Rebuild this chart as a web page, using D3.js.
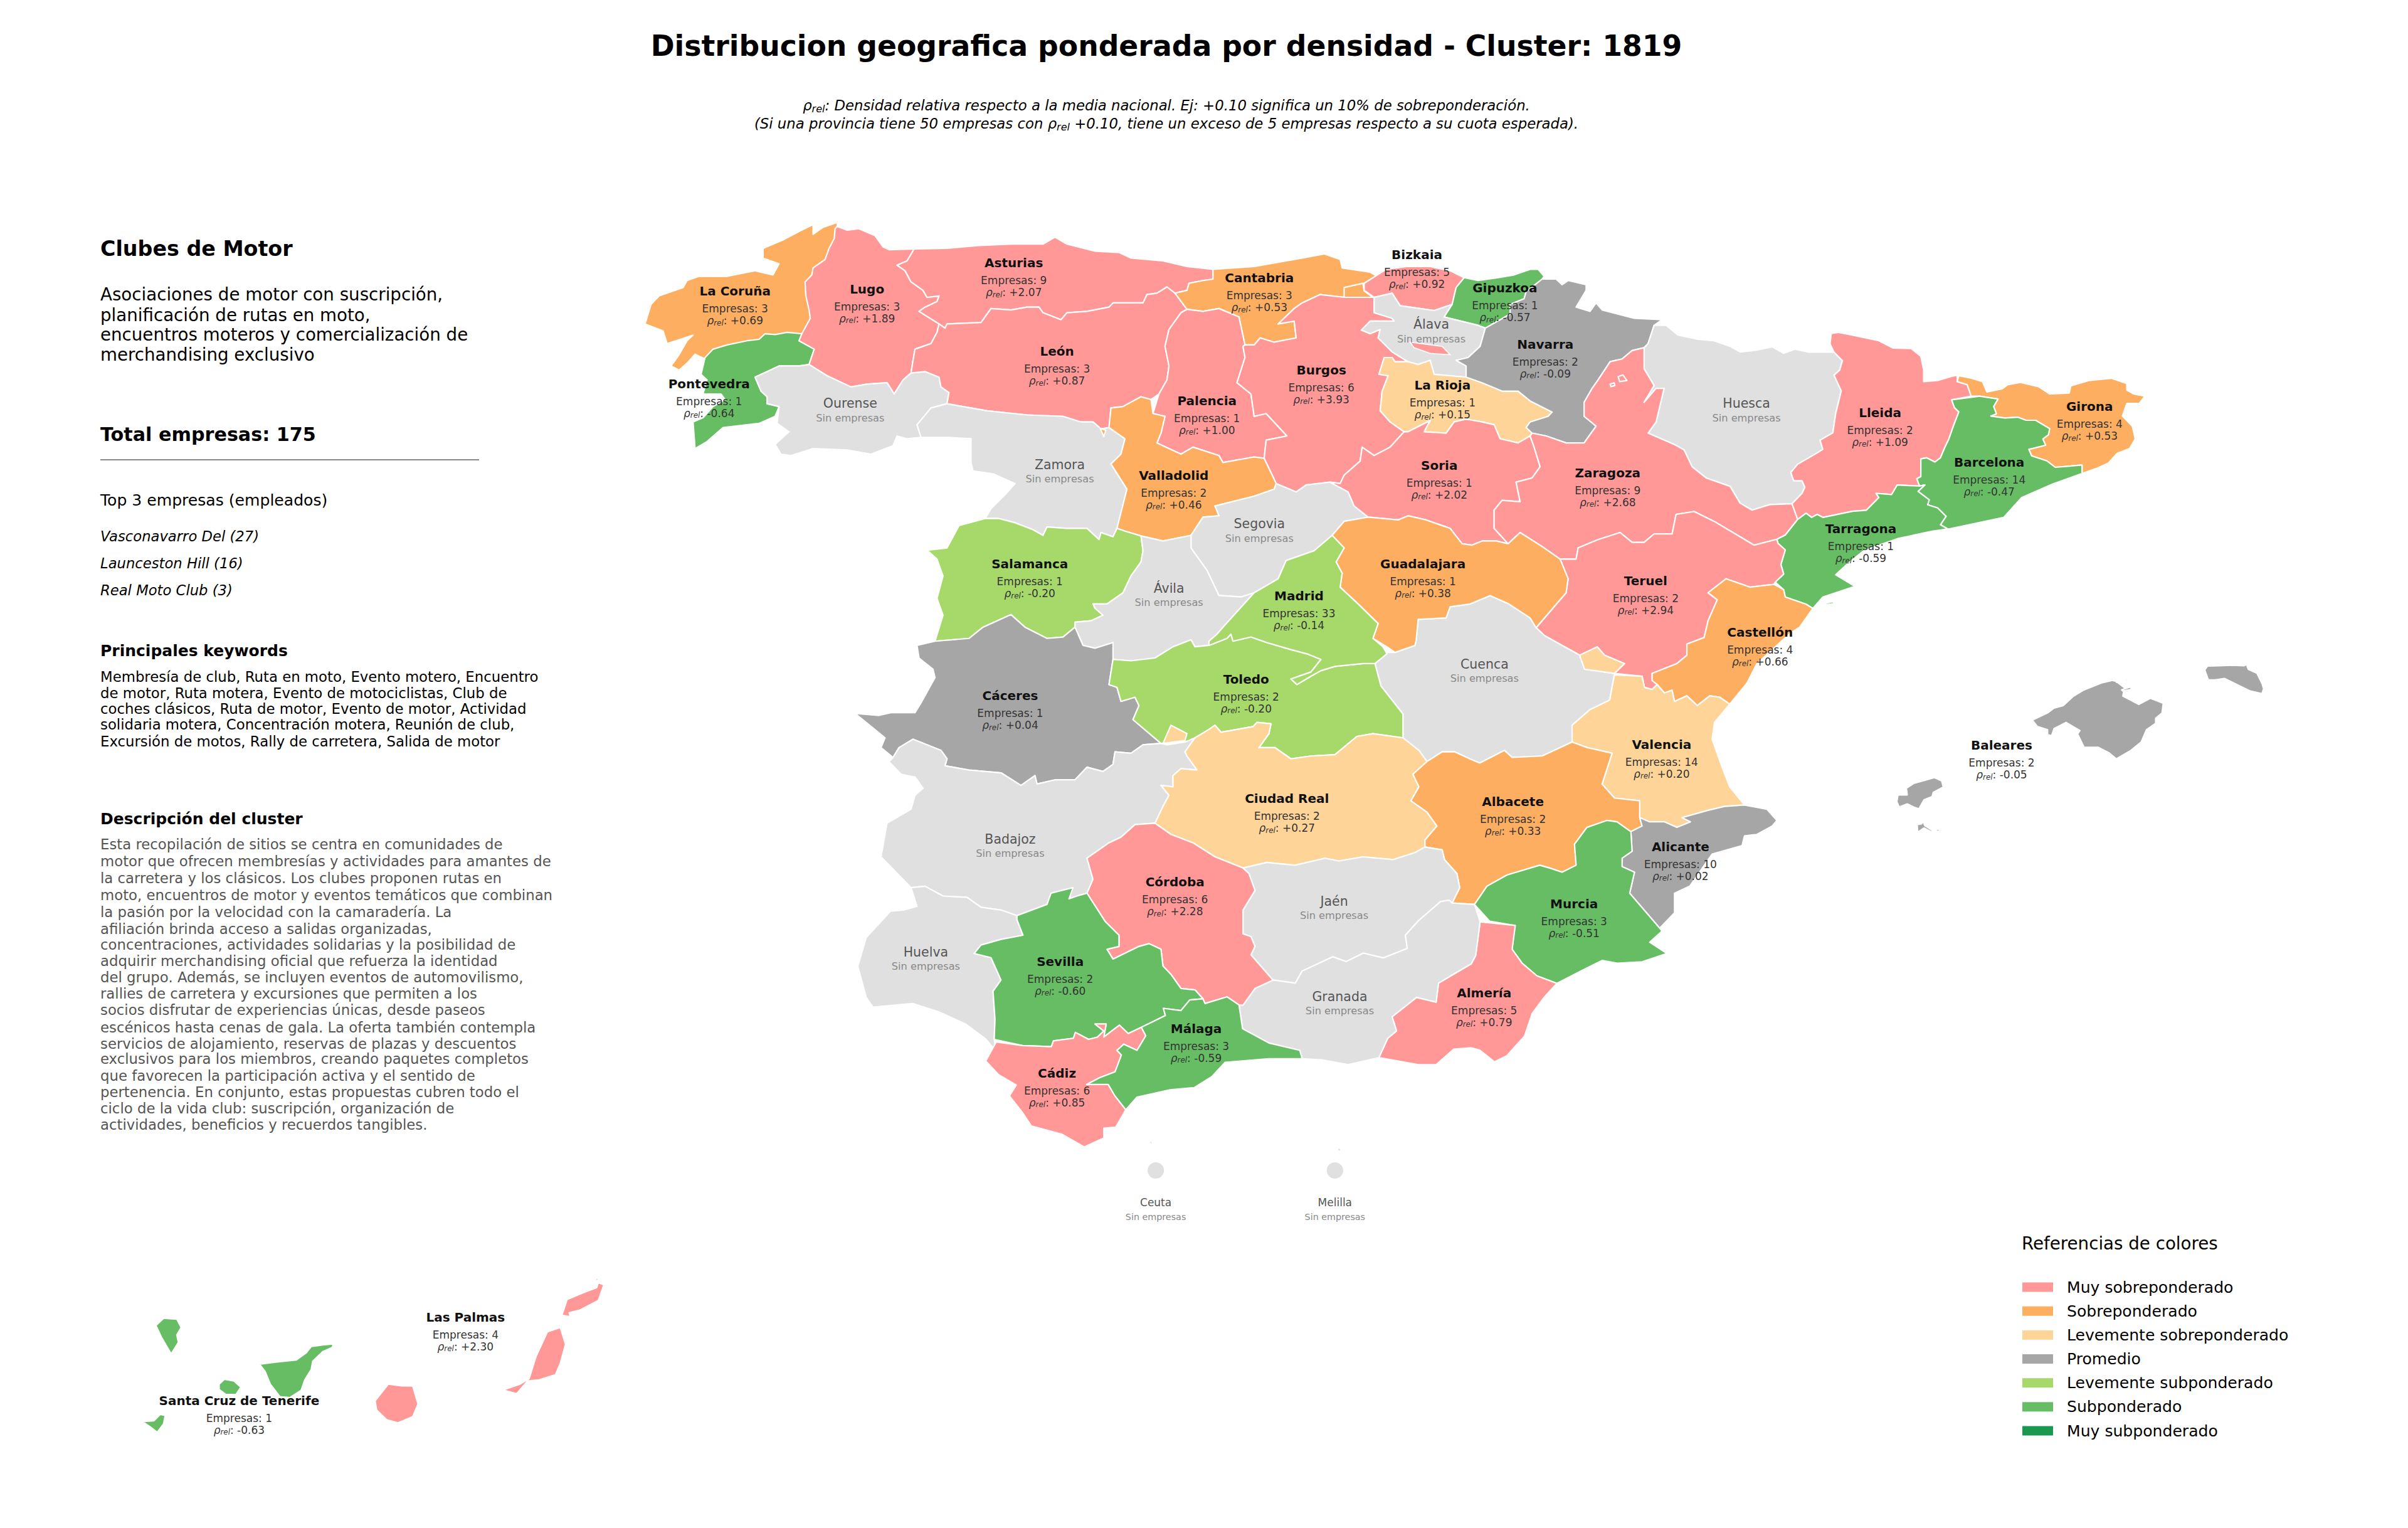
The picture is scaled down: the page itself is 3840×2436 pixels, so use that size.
<!DOCTYPE html>
<html><head><meta charset="utf-8">
<style>html,body{margin:0;padding:0;background:#fff;overflow:hidden}svg{display:block;font-family:"DejaVu Sans",sans-serif}</style>
<script src="https://cdn.jsdelivr.net/npm/d3@7"></script>
</head><body>
<svg id="chart" width="3840" height="2436" viewBox="0 0 3840 2436"></svg>
<script>
// ---------- values ----------
const provinces = ["La Coruña","Pontevedra","Lugo","Ourense","Asturias","León","Cantabria","Zamora","Palencia","Burgos","Valladolid","Salamanca","Segovia","Ávila","Bizkaia","Gipuzkoa","Álava","La Rioja","Navarra","Soria","Huesca","Zaragoza","Lleida","Girona","Barcelona","Tarragona","Teruel","Castellón","Cuenca","Guadalajara","Cáceres","Badajoz","Toledo","Madrid","Ciudad Real","Valencia","Albacete","Alicante","Murcia","Almería","Jaén","Granada","Córdoba","Huelva","Sevilla","Cádiz","Málaga","Baleares","Santa Cruz de Tenerife","Las Palmas"];
const empresas = [3,1,3,null,9,3,3,null,1,6,2,1,null,null,5,1,null,1,2,1,null,9,2,4,14,1,2,4,null,1,1,null,2,33,2,14,2,10,3,5,null,null,6,null,2,6,3,2,1,4];
const rhoRel = [0.69,-0.64,1.89,null,2.07,0.87,0.53,null,1.00,3.93,0.46,-0.20,null,null,0.92,-0.57,null,0.15,-0.09,2.02,null,2.68,1.09,0.53,-0.47,-0.59,2.94,0.66,null,0.38,0.04,null,-0.20,-0.14,0.27,0.20,0.33,0.02,-0.51,0.79,null,null,2.28,null,-0.60,0.85,-0.59,-0.05,-0.63,2.30];
const cities = ["Ceuta","Melilla"];

const legendLabels = ["Muy sobreponderado","Sobreponderado","Levemente sobreponderado","Promedio","Levemente subponderado","Subponderado","Muy subponderado"];
const legendColors = ["#ff9896","#fdae61","#fed498","#a6a6a6","#a6d96a","#66bd63","#1a9850"];
const rhoBreaks = [-0.75,-0.30,-0.10,0.10,0.30,0.75];
const noDataColor = "#e0e0e0";

const titleText = "Distribucion geografica ponderada por densidad - Cluster: 1819";
const subtitle1 = ": Densidad relativa respecto a la media nacional. Ej: +0.10 significa un 10% de sobreponderación.";
const subtitle2a = "(Si una provincia tiene 50 empresas con ";
const subtitle2b = " +0.10, tiene un exceso de 5 empresas respecto a su cuota esperada).";
const clusterName = "Clubes de Motor";
const clusterLines = ["Asociaciones de motor con suscripción,","planificación de rutas en moto,","encuentros moteros y comercialización de","merchandising exclusivo"];
const totalText = "Total empresas: 175";
const topHeader = "Top 3 empresas (empleados)";
const topCompanies = ["Vasconavarro Del (27)","Launceston Hill (16)","Real Moto Club (3)"];
const keywordsHeader = "Principales keywords";
const keywordLines = ["Membresía de club, Ruta en moto, Evento motero, Encuentro","de motor, Ruta motera, Evento de motociclistas, Club de","coches clásicos, Ruta de motor, Evento de motor, Actividad","solidaria motera, Concentración motera, Reunión de club,","Excursión de motos, Rally de carretera, Salida de motor"];
const descHeader = "Descripción del cluster";
const descLines = ["Esta recopilación de sitios se centra en comunidades de","motor que ofrecen membresías y actividades para amantes de","la carretera y los clásicos. Los clubes proponen rutas en","moto, encuentros de motor y eventos temáticos que combinan","la pasión por la velocidad con la camaradería. La","afiliación brinda acceso a salidas organizadas,","concentraciones, actividades solidarias y la posibilidad de","adquirir merchandising oficial que refuerza la identidad","del grupo. Además, se incluyen eventos de automovilismo,","rallies de carretera y excursiones que permiten a los","socios disfrutar de experiencias únicas, desde paseos","escénicos hasta cenas de gala. La oferta también contempla","servicios de alojamiento, reservas de plazas y descuentos","exclusivos para los miembros, creando paquetes completos","que favorecen la participación activa y el sentido de","pertenencia. En conjunto, estas propuestas cubren todo el","ciclo de la vida club: suscripción, organización de","actividades, beneficios y recuerdos tangibles."];

// ---------- province outlines, traced in map-grid units (x1,y1,x2,y2,...) ----------
const oCoruna=[[525,78,530,130,530,300,500,420,470,500,380,520,250,540,215,550,195,565,170,548,150,580,130,605,110,590,130,550,150,500,165,480,100,510,90,465,45,440,60,370,80,340,140,310,150,285,180,270,250,270,320,250,365,265,380,225,340,205,340,170,390,140,430,110,465,85,465,120,490,95]];
const oPontevedra=[[215,530,195,560,185,620,200,640,190,690,235,690,245,710,215,735,190,775,165,790,170,885,200,860,240,810,330,795,370,770,380,735,350,725,350,700,335,680,320,630,380,590,430,590,455,585,468,530,430,500,437,475,400,470,370,478,345,475,330,495,300,500,250,515]];
const oLugo=[[525,92,550,105,580,100,620,125,640,165,655,175,718,172,700,215,675,230,695,250,710,290,740,320,750,345,780,340,775,360,745,380,730,395,780,440,775,470,760,510,720,530,715,570,710,615,690,640,668,690,650,650,600,655,560,665,500,625,455,585,468,530,430,500,437,475,458,420,455,390,447,340,445,290,462,265,465,240,495,210,505,170,518,135,520,100]];
const oOurense=[[320,630,380,590,430,590,455,585,500,625,560,665,600,655,650,650,668,690,690,640,710,615,745,610,780,630,785,665,805,685,800,725,760,740,725,800,735,845,700,850,675,840,665,875,610,905,550,890,465,885,410,910,385,905,370,870,405,825,375,795,380,735,350,725,350,700,335,680]];
const oAsturias=[[718,172,800,170,880,160,960,155,1040,155,1070,130,1100,155,1170,180,1230,185,1260,205,1340,215,1400,235,1465,245,1465,280,1440,285,1405,295,1400,320,1370,330,1350,308,1325,330,1300,335,1290,365,1215,365,1205,380,1150,395,1100,400,1085,425,1040,400,1030,380,1000,380,960,390,910,385,885,435,800,440,795,455,780,440,730,395,745,380,775,360,780,340,750,345,740,320,710,290,695,250,675,230,700,215]];
const oLeon=[[780,440,795,455,800,440,885,435,910,385,960,390,1000,380,1030,380,1040,400,1085,425,1100,400,1150,395,1205,380,1215,365,1290,365,1300,335,1325,330,1350,308,1370,330,1400,388,1385,400,1355,460,1345,520,1355,590,1350,640,1330,690,1310,710,1285,700,1240,735,1210,740,1205,810,1185,815,1165,790,1135,790,1090,770,1000,765,900,750,800,725,805,685,785,665,780,630,745,610,710,615,715,570,720,530,760,510,775,470]];
const oCantabria=[[1465,245,1568,235,1628,220,1688,205,1743,190,1783,210,1788,240,1858,255,1873,268,1843,295,1793,345,1733,335,1688,365,1668,385,1628,440,1668,430,1673,490,1618,505,1583,490,1568,515,1545,515,1530,415,1480,385,1440,395,1400,388,1370,330,1400,320,1405,295,1440,285,1465,280],[1793,345,1793,310,1840,295,1843,322,1868,348]];
const oZamora=[[760,740,800,725,900,750,1000,765,1090,770,1135,790,1165,790,1185,815,1205,810,1245,850,1235,905,1210,940,1250,1030,1225,1170,1215,1200,1185,1185,1180,1210,1150,1170,1100,1170,1050,1165,1040,1195,1015,1175,970,1150,930,1135,895,1135,910,1100,945,1050,970,1010,915,975,865,965,860,935,860,850,800,845,735,845,725,800]];
const oPalencia=[[1385,400,1400,388,1440,395,1480,385,1530,415,1545,515,1540,520,1545,560,1525,650,1560,690,1568,770,1598,760,1650,840,1598,855,1593,920,1568,915,1490,935,1480,910,1415,880,1385,905,1325,865,1335,830,1345,770,1315,760,1330,690,1350,640,1355,590,1345,520,1355,460]];
const oBurgos=[[1545,515,1568,515,1583,490,1618,505,1673,490,1668,430,1628,440,1668,385,1688,365,1733,335,1793,345,1868,345,1868,400,1913,420,1918,430,1858,430,1836,462,1858,475,1883,460,1878,490,1913,540,1953,575,1920,575,1913,560,1893,560,1880,620,1903,625,1888,680,1883,750,1908,790,1943,825,1908,880,1868,910,1838,880,1833,930,1793,980,1783,1010,1758,1005,1698,1015,1673,1040,1623,1010,1593,920,1598,855,1650,840,1598,760,1568,770,1560,690,1525,650,1545,560,1540,520]];
const oTrevino=[1958,505,2038,520,2058,550,2008,545,1968,525];
const oValladolid=[[1210,740,1240,735,1285,700,1310,710,1315,760,1345,770,1335,830,1325,865,1385,905,1415,880,1480,910,1490,935,1568,915,1593,920,1623,1010,1618,1030,1568,1055,1470,1090,1480,1125,1440,1130,1410,1195,1340,1215,1285,1197,1245,1180,1225,1170,1250,1030,1210,940,1235,905,1245,850,1205,810],[1183,813,1192,842,1197,820]];
const oSalamanca=[[895,1135,930,1135,970,1150,1015,1175,1040,1195,1050,1165,1100,1170,1150,1170,1180,1210,1185,1185,1215,1200,1225,1170,1245,1180,1285,1197,1290,1250,1285,1290,1260,1340,1240,1400,1200,1440,1165,1440,1170,1455,1190,1480,1160,1500,1120,1505,1120,1523,1090,1558,1050,1563,995,1523,960,1478,890,1523,855,1563,770,1573,790,1480,775,1420,790,1340,775,1280,750,1248,800,1240,830,1160]];
const oSegovia=[[1440,1130,1480,1125,1470,1090,1568,1055,1618,1030,1623,1010,1673,1040,1698,1015,1758,1005,1803,1040,1818,1090,1853,1130,1793,1145,1763,1195,1718,1250,1648,1285,1628,1350,1568,1400,1535,1415,1480,1410,1450,1320,1410,1240,1410,1195]];
const oAvila=[[1285,1197,1340,1215,1410,1195,1410,1240,1450,1320,1480,1410,1535,1415,1568,1400,1490,1523,1475,1548,1455,1573,1455,1588,1420,1593,1410,1568,1365,1593,1320,1633,1260,1643,1215,1638,1215,1578,1170,1598,1140,1588,1120,1523,1120,1505,1160,1500,1190,1480,1170,1455,1165,1440,1200,1440,1240,1400,1260,1340,1285,1290,1290,1250]];
const oBizkaia=[[1873,268,1898,245,1948,235,2008,235,2058,250,2093,275,2073,310,2068,340,2063,370,2018,392,1933,375,1913,330,1868,345,1843,320,1843,295]];
const oGipuzkoa=[[2093,275,2128,285,2178,275,2218,265,2258,245,2278,245,2293,270,2288,280,2248,325,2243,350,2208,370,2208,405,2146,455,2128,445,2043,415,2063,370,2068,340,2073,310]];
const oAlava=[[1868,345,1913,330,1933,375,2018,392,2063,370,2043,415,2128,445,2146,455,2133,520,2103,560,2073,570,2098,590,2098,630,2018,620,2008,570,1978,585,1953,575,1913,540,1878,490,1883,460,1858,475,1836,462,1858,430,1918,430,1913,420,1868,400]];
const oRioja=[[1893,560,1913,560,1920,575,1953,575,1978,585,2008,570,2018,620,2098,630,2138,650,2188,680,2228,680,2258,715,2313,755,2303,770,2258,790,2248,810,2263,830,2258,840,2228,865,2183,850,2168,800,2138,790,2098,780,2068,790,2048,830,1993,825,2008,785,1953,825,1943,825,1908,790,1883,750,1888,680,1903,625,1880,620]];
const oNavarra=[[2146,455,2208,405,2208,370,2243,350,2248,325,2288,280,2323,280,2338,300,2353,285,2398,300,2398,320,2373,380,2408,395,2423,365,2438,390,2518,420,2588,425,2568,445,2553,510,2543,525,2513,535,2488,565,2458,575,2428,640,2413,670,2393,720,2393,770,2423,805,2393,865,2348,865,2298,840,2263,830,2248,810,2258,790,2303,770,2313,755,2258,715,2228,680,2188,680,2138,650,2098,630,2098,590,2073,570,2103,560,2133,520]];
const oSoria=[[1943,825,1953,825,2008,785,1993,825,2048,830,2068,790,2098,780,2138,790,2168,800,2183,850,2228,865,2258,840,2268,880,2283,950,2263,990,2223,1005,2233,1075,2188,1070,2168,1105,2168,1170,2203,1225,2173,1215,2138,1215,2113,1230,2088,1225,2058,1170,2038,1160,1998,1140,1953,1125,1928,1140,1853,1130,1818,1090,1803,1040,1758,1005,1783,1010,1793,980,1833,930,1838,880,1868,910,1908,880]];
const oHuesca=[[2553,510,2568,445,2598,445,2628,480,2678,495,2718,500,2758,520,2783,540,2822,534,2864,522,2892,545,2920,530,2955,541,3011,541,3018,541,3039,571,3032,605,3018,623,3036,679,3022,761,3015,829,2983,855,2990,888,2973,903,2927,941,2910,970,2917,1000,2938,1000,2945,1023,2938,1045,2913,1082,2858,1085,2813,1105,2783,1080,2758,1020,2698,990,2663,950,2643,890,2618,870,2553,830,2573,790,2593,670,2573,670,2543,720,2568,660,2543,600,2543,525]];
const oZaragoza=[[2543,525,2513,535,2488,565,2458,575,2428,640,2413,670,2393,720,2393,770,2423,805,2393,865,2348,865,2298,840,2263,830,2258,840,2268,880,2283,950,2263,990,2223,1005,2233,1075,2188,1070,2168,1105,2168,1170,2203,1225,2233,1185,2288,1235,2333,1280,2373,1280,2378,1240,2428,1210,2483,1185,2513,1220,2543,1220,2568,1190,2613,1190,2623,1120,2668,1110,2718,1145,2818,1230,2875,1209,2896,1194,2927,1138,2913,1082,2858,1085,2813,1105,2783,1080,2758,1020,2698,990,2663,950,2643,890,2618,870,2553,830,2573,790,2593,670,2573,670,2543,720,2568,660,2543,600],[2478,628,2490,622,2500,642,2482,646],[2458,655,2468,650,2470,660,2460,664]];
const oLleida=[[3011,474,3029,470,3067,481,3130,500,3165,526,3211,528,3235,556,3242,605,3242,646,3277,642,3312,627,3326,623,3326,646,3351,657,3361,698,3312,711,3319,739,3330,754,3316,806,3305,851,3295,881,3284,918,3270,933,3249,918,3235,922,3235,985,3225,993,3232,1019,3176,1015,3162,1049,3123,1045,3130,1060,3099,1105,3064,1109,2990,1131,2976,1120,2962,1131,2948,1116,2927,1138,2913,1082,2938,1045,2945,1023,2938,1000,2917,1000,2910,970,2927,941,2973,903,2990,888,2983,855,3015,829,3022,761,3036,679,3018,623,3032,605,3039,571,3018,541,3008,511]];
const oGirona=[[3330,625,3361,634,3389,646,3400,683,3438,672,3452,657,3484,649,3529,664,3557,690,3606,687,3610,661,3655,642,3711,634,3750,653,3750,676,3767,690,3795,698,3781,724,3750,724,3739,769,3764,806,3771,851,3757,885,3725,903,3704,937,3676,955,3638,974,3638,944,3571,952,3550,929,3512,911,3505,888,3547,873,3540,851,3554,836,3557,814,3522,784,3498,784,3477,773,3445,776,3410,769,3424,761,3417,735,3428,708,3382,698,3361,698,3351,657,3326,646]];
const oBarcelona=[[3312,711,3382,698,3428,708,3417,735,3424,761,3410,769,3445,776,3477,773,3498,784,3522,784,3557,814,3554,836,3540,851,3547,873,3505,888,3512,911,3550,929,3571,952,3638,944,3638,974,3564,1012,3487,1060,3442,1131,3305,1172,3302,1172,3284,1157,3298,1127,3277,1097,3252,1086,3256,1068,3228,1038,3245,1015,3232,1019,3225,993,3235,985,3235,922,3249,918,3270,933,3284,918,3295,881,3305,851,3316,806,3330,754,3319,739]];
const oTarragona=[[2927,1138,2896,1194,2875,1209,2878,1224,2896,1247,2885,1299,2892,1333,2871,1362,2892,1389,2896,1415,2948,1441,2965,1456,2990,1415,3070,1377,3022,1336,3053,1295,3095,1247,3179,1206,3263,1180,3302,1172,3284,1157,3298,1127,3277,1097,3252,1086,3256,1068,3228,1038,3245,1015,3232,1019,3176,1015,3162,1049,3123,1045,3130,1060,3099,1105,3064,1109,2990,1131,2976,1120,2962,1131,2948,1116],[2995,1438,3015,1432,3018,1438,3000,1442]];
const oTeruel=[[2333,1280,2373,1280,2378,1240,2428,1210,2483,1185,2513,1220,2543,1220,2568,1190,2613,1190,2623,1120,2668,1110,2718,1145,2818,1230,2875,1209,2878,1224,2896,1247,2885,1299,2892,1333,2871,1362,2868,1370,2808,1380,2748,1350,2703,1400,2726,1425,2703,1500,2693,1560,2650,1583,2650,1623,2625,1653,2563,1688,2563,1713,2576,1728,2563,1745,2544,1738,2538,1698,2469,1688,2494,1653,2444,1623,2426,1593,2382,1623,2294,1553,2273,1525,2348,1400,2353,1350]];
const oCastellon=[[2703,1400,2748,1350,2808,1380,2868,1370,2892,1389,2896,1415,2948,1441,2965,1456,2932,1523,2908,1545,2825,1653,2800,1723,2757,1798,2732,1773,2707,1768,2676,1803,2650,1768,2619,1788,2613,1748,2594,1758,2576,1728,2563,1713,2563,1688,2625,1653,2650,1623,2650,1583,2693,1560,2703,1500,2726,1425]];
const oCuenca=[[1973,1570,1978,1495,2048,1490,2058,1450,2108,1440,2158,1410,2205,1440,2258,1490,2273,1525,2294,1553,2382,1623,2394,1673,2469,1688,2457,1783,2407,1818,2363,1873,2363,1933,2288,1983,2213,1988,2194,1963,2132,2008,2107,1993,2069,1968,2038,1968,2000,2003,1980,1963,1940,1918,1940,1833,1885,1733,1870,1653,1900,1613,1920,1613,1970,1588]];
const oGuadalajara=[[1853,1130,1928,1140,1953,1125,1998,1140,2038,1160,2058,1170,2088,1225,2113,1230,2138,1215,2173,1215,2203,1225,2233,1185,2288,1235,2333,1280,2353,1350,2348,1400,2273,1525,2258,1490,2205,1440,2158,1410,2108,1440,2058,1450,2048,1490,1978,1495,1973,1570,1970,1588,1920,1613,1900,1593,1865,1563,1878,1510,1828,1440,1783,1380,1788,1330,1773,1290,1793,1240,1763,1195,1793,1145]];
const oCaceres=[[770,1573,725,1588,730,1633,765,1673,770,1703,735,1793,720,1828,660,1828,630,1838,570,1831,615,1883,645,1918,635,1953,665,1988,680,1953,715,1923,785,1963,800,1993,795,2018,855,2033,935,2043,985,2088,1020,2053,1025,2083,1070,2068,1120,2068,1150,2023,1190,2038,1215,2013,1220,1968,1260,1973,1290,1943,1335,1938,1265,1853,1280,1803,1270,1773,1235,1788,1225,1738,1205,1728,1215,1638,1215,1578,1170,1598,1140,1588,1120,1523,1090,1558,1050,1563,995,1523,960,1478,890,1523,855,1563]];
const oBadajoz=[[665,1988,680,1953,715,1923,785,1963,800,1993,795,2018,855,2033,935,2043,985,2088,1020,2053,1025,2083,1070,2068,1120,2068,1150,2023,1190,2038,1215,2013,1220,1968,1260,1973,1290,1943,1335,1938,1350,1943,1395,1933,1420,1918,1395,1968,1425,2033,1385,2028,1365,2053,1365,2093,1335,2088,1355,2123,1340,2163,1320,2223,1270,2228,1235,2273,1205,2293,1150,2348,1165,2423,1150,2473,1125,2483,1110,2498,1105,2468,1115,2453,1060,2473,1050,2513,975,2553,935,2533,885,2523,850,2488,790,2483,745,2448,710,2453,635,2343,650,2223,710,2173,720,2123,740,2098,720,2058,685,2048,655,2003]];
const oToledo=[[1215,1638,1260,1643,1320,1633,1365,1593,1410,1568,1420,1593,1455,1588,1500,1563,1510,1548,1515,1573,1560,1558,1600,1578,1660,1603,1700,1618,1735,1638,1710,1683,1660,1708,1675,1728,1710,1698,1735,1678,1770,1663,1840,1653,1870,1653,1885,1733,1940,1833,1940,1918,1865,1903,1825,1913,1770,1978,1710,1983,1660,1993,1620,1953,1580,1953,1605,1903,1610,1868,1575,1863,1565,1878,1485,1898,1470,1873,1455,1888,1420,1918,1395,1933,1335,1938,1265,1853,1280,1803,1270,1773,1235,1788,1225,1738,1205,1728]];
const oMadrid=[[1763,1195,1793,1240,1773,1290,1788,1330,1783,1380,1828,1440,1878,1510,1865,1563,1890,1593,1900,1618,1870,1653,1840,1653,1770,1663,1735,1678,1710,1698,1675,1728,1660,1708,1710,1683,1735,1638,1700,1618,1660,1603,1600,1578,1560,1558,1515,1573,1510,1548,1500,1563,1455,1588,1455,1573,1475,1548,1490,1523,1568,1400,1628,1350,1648,1285,1718,1250]];
const oCiudadReal=[[1420,1918,1455,1888,1470,1873,1485,1898,1565,1878,1575,1863,1610,1868,1605,1903,1580,1953,1620,1953,1660,1993,1710,1983,1770,1978,1825,1913,1865,1903,1940,1918,1980,1963,2000,2003,1965,2048,1980,2093,1960,2143,2000,2183,2025,2233,1995,2283,1995,2308,1970,2328,1915,2353,1840,2343,1780,2358,1745,2348,1670,2373,1600,2363,1540,2383,1470,2343,1415,2293,1360,2263,1320,2223,1340,2163,1355,2123,1335,2088,1365,2093,1365,2053,1385,2028,1425,2033,1400,1983,1395,1968],[1340,1938,1360,1873,1400,1903,1395,1928]];
const oValencia=[[2469,1693,2538,1698,2544,1738,2563,1745,2576,1728,2594,1758,2613,1748,2619,1788,2650,1768,2676,1803,2707,1768,2732,1773,2757,1798,2719,1863,2713,1923,2738,2023,2757,2093,2794,2158,2744,2163,2700,2178,2638,2203,2659,2218,2625,2238,2594,2218,2557,2218,2532,2203,2532,2143,2469,2133,2438,2083,2463,1973,2401,1953,2363,1933,2363,1873,2407,1818,2457,1783],[2382,1623,2426,1593,2444,1623,2494,1653,2469,1688,2394,1673]];
const oAlbacete=[[2038,1968,2000,2003,1965,2048,1980,2093,1960,2143,2000,2183,2025,2233,1995,2283,1995,2308,2038,2318,2044,2353,2075,2403,2082,2453,2063,2508,2119,2513,2150,2448,2200,2408,2282,2373,2307,2383,2338,2398,2373,2373,2369,2298,2400,2238,2450,2213,2475,2218,2510,2253,2538,2233,2532,2203,2532,2143,2469,2133,2438,2083,2463,1973,2401,1953,2363,1933,2288,1983,2213,1988,2194,1963,2132,2008,2107,1993,2069,1968]];
const oAlicante=[[2532,2203,2557,2218,2594,2218,2625,2238,2659,2218,2638,2203,2700,2178,2744,2163,2794,2158,2850,2173,2875,2213,2863,2233,2825,2263,2794,2268,2788,2303,2713,2333,2657,2448,2619,2473,2619,2543,2582,2598,2507,2473,2519,2398,2488,2378,2488,2348,2513,2323,2510,2253,2538,2233]];
const oMurcia=[[2450,2213,2475,2218,2510,2253,2513,2323,2488,2348,2488,2378,2519,2398,2507,2473,2582,2598,2588,2608,2557,2648,2600,2688,2538,2718,2476,2723,2438,2713,2382,2753,2325,2795,2275,2768,2238,2723,2213,2673,2219,2588,2157,2573,2119,2513,2150,2448,2200,2408,2282,2373,2307,2383,2338,2398,2373,2373,2369,2298,2400,2238]];
const oAlmeria=[[2133,2575,2221,2588,2213,2673,2238,2723,2275,2768,2325,2795,2294,2843,2263,2903,2244,2983,2200,3053,2169,3075,2132,3033,2111,3025,2067,3030,2023,3085,1979,3085,1880,3060,1902,2991,1924,2965,1913,2914,1974,2845,2023,2862,2029,2794,2111,2725,2122,2695]];
const oJaen=[[1540,2383,1600,2363,1670,2373,1745,2348,1780,2358,1840,2343,1915,2353,1970,2328,1995,2308,2038,2318,2044,2353,2075,2403,2082,2453,2063,2508,2056,2498,2034,2503,1979,2571,1946,2623,1951,2670,1891,2704,1841,2687,1798,2717,1765,2700,1688,2751,1671,2794,1615,2783,1560,2693,1570,2663,1560,2628,1540,2618,1540,2533,1570,2463,1555,2403]];
const oGranada=[[1530,2872,1570,2813,1615,2783,1671,2794,1688,2751,1765,2700,1798,2717,1841,2687,1891,2704,1951,2670,1946,2623,1979,2571,2034,2503,2056,2498,2063,2508,2119,2513,2133,2575,2122,2695,2111,2725,2029,2794,2023,2862,1974,2845,1913,2914,1924,2965,1902,2991,1880,3060,1803,3085,1737,3068,1688,3064,1682,3034,1605,3008,1539,2957]];
const oCordoba=[[1270,2228,1320,2223,1360,2263,1415,2293,1470,2343,1540,2383,1555,2403,1570,2463,1540,2533,1540,2618,1560,2628,1570,2663,1560,2693,1615,2783,1570,2813,1540,2873,1530,2872,1500,2843,1445,2867,1440,2850,1420,2818,1385,2813,1360,2763,1340,2733,1335,2673,1305,2653,1280,2663,1215,2708,1200,2673,1230,2663,1230,2623,1195,2573,1150,2473,1165,2423,1150,2348,1205,2293,1235,2273]];
const oHuelva=[[710,2453,745,2448,790,2483,850,2488,885,2523,935,2533,975,2553,975,2568,990,2623,935,2638,885,2658,868,2688,910,2703,935,2783,915,2823,920,2923,918,2995,923,3038,895,2991,846,2940,780,2897,714,2867,615,2880,598,2845,577,2734,598,2631,659,2537,692,2533,725,2520]];
const oSevilla=[[975,2553,1050,2513,1060,2473,1115,2453,1105,2493,1125,2483,1150,2473,1195,2573,1230,2623,1230,2663,1200,2673,1215,2708,1280,2663,1305,2653,1335,2673,1340,2733,1360,2763,1385,2813,1420,2818,1440,2850,1407,2854,1385,2892,1341,2884,1346,2910,1286,2952,1253,2974,1231,2944,1192,2987,1198,2940,1170,2940,1192,2965,1176,2987,1154,2995,1121,2970,1116,2991,1066,3000,1061,3021,989,3017,918,2995,920,2923,915,2823,935,2783,910,2703,868,2688,885,2658,935,2638,990,2623,975,2568]];
const oCadiz=[[923,3004,989,3017,1061,3021,1066,3000,1116,2991,1121,2970,1154,2995,1176,2987,1192,2965,1170,2940,1198,2940,1192,2987,1231,2944,1253,2974,1286,2952,1297,2982,1275,3034,1242,3012,1225,3034,1236,3051,1220,3111,1181,3132,1149,3156,1203,3156,1220,3197,1247,3246,1222,3308,1192,3312,1192,3347,1143,3379,1088,3334,1011,3304,989,3257,956,3197,973,3158,928,3120,897,3072]];
const oMalaga=[[1286,2952,1346,2910,1341,2884,1385,2892,1407,2854,1440,2850,1445,2867,1500,2843,1530,2872,1539,2957,1605,3008,1682,3034,1688,3064,1605,3064,1495,3077,1462,3128,1418,3167,1358,3175,1275,3201,1247,3246,1220,3197,1203,3156,1149,3156,1181,3132,1220,3111,1236,3051,1225,3034,1242,3012,1275,3034,1297,2982]];
const oBaleares=[[3514,1855,3552,1829,3568,1812,3591,1803,3617,1769,3643,1747,3689,1721,3714,1713,3724,1717,3744,1739,3740,1769,3780,1799,3809,1777,3841,1795,3838,1829,3822,1848,3822,1866,3799,1889,3786,1933,3760,1963,3724,1993,3705,1971,3679,1952,3643,1951,3627,1904,3633,1892,3598,1863,3568,1885,3562,1910,3552,1907,3552,1889,3526,1877],[3737,1747,3760,1736,3761,1745,3740,1751],[3724,1720,3750,1706,3763,1702,3750,1712],[3945,1676,3952,1662,3981,1661,4014,1659,4043,1661,4049,1656,4054,1674,4075,1687,4088,1724,4092,1743,4088,1760,4059,1751,4026,1728,3994,1706,3971,1711,3954,1711],[3178,2122,3201,2122,3199,2098,3217,2081,3240,2072,3269,2060,3287,2072,3291,2094,3266,2113,3263,2128,3243,2139,3230,2172,3217,2165,3201,2154,3181,2165,3175,2146],[3226,2228,3237,2225,3240,2216,3245,2232,3266,2251,3280,2243,3282,2251,3260,2253,3243,2240,3227,2255],[3685,2047,3692,2044,3692,2049]];
const oTenerife=[[-1178,4017,-1159,3991,-1126,3994,-1115,4024,-1126,4050,-1122,4077,-1140,4118,-1163,4062],[-919,4155,-876,4147,-827,4140,-802,4114,-790,4092,-761,4086,-735,4083,-737,4095,-761,4110,-786,4144,-790,4174,-806,4211,-815,4248,-843,4274,-868,4271,-892,4226,-905,4181],[-1020,4226,-1007,4209,-983,4215,-966,4237,-978,4263,-1003,4263,-1020,4245],[-1212,4360,-1183,4357,-1167,4334,-1155,4338,-1159,4368,-1175,4398,-1192,4379]];
const oPalmas=[[-630,4286,-597,4226,-564,4232,-536,4233,-523,4297,-536,4342,-573,4364,-601,4353,-626,4319],[-310,4247,-269,4227,-245,4207,-228,4129,-199,4039,-167,4024,-154,4084,-167,4151,-179,4192,-220,4211,-249,4215,-276,4260],[-163,3980,-150,3924,-105,3897,-76,3882,-72,3864,-58,3871,-72,3927,-117,3961,-145,3971,-142,3985],[-81,3856,-74,3844,-72,3856],[-81,3802,-77,3798,-76,3804]];

const outlines = [oCoruna,oPontevedra,oLugo,oOurense,oAsturias,oLeon,oCantabria,oZamora,oPalencia,oBurgos,oValladolid,oSalamanca,oSegovia,oAvila,oBizkaia,oGipuzkoa,oAlava,oRioja,oNavarra,oSoria,oHuesca,oZaragoza,oLleida,oGirona,oBarcelona,oTarragona,oTeruel,oCastellon,oCuenca,oGuadalajara,oCaceres,oBadajoz,oToledo,oMadrid,oCiudadReal,oValencia,oAlbacete,oAlicante,oMurcia,oAlmeria,oJaen,oGranada,oCordoba,oHuelva,oSevilla,oCadiz,oMalaga,oBaleares,oTenerife,oPalmas];

// label anchors, map-grid units, same order as provinces
const labelAnchors = [[270,323],[205,653],[600,315],[558,724],[967,222],[1075,538],[1581,276],[1082,943],[1450,714],[1736,604],[1367,981],[1007,1298],[1581,1154],[1355,1384],[1975,193],[2195,312],[2011,442],[2039,659],[2296,512],[2031,945],[2799,724],[2452,972],[3133,756],[3657,735],[3406,933],[3085,1172],[2547,1357],[2833,1540],[2144,1655],[1990,1296],[958,1768],[958,2280],[1548,1708],[1680,1412],[1650,2135],[2587,1941],[2215,2145],[2634,2307],[2368,2511],[2143,2829],[1768,2501],[1782,2842],[1370,2433],[747,2683],[1083,2717],[1075,3115],[1423,2956],[3437,1945],[-970,4284],[-404,3987]];
const cityAnchors = [[1322,3463],[1770,3463]];
const citySpecks = [[1307,3360,1313,3362,1310,3366],[1777,3390,1781,3384,1784,3392]];

// ---------- scales ----------
const mapX = d3.scaleLinear().domain([0,1568]).range([1000,2000]);
const mapY = d3.scaleLinear().domain([0,1568]).range([320,1020]);
const rhoColor = d3.scaleThreshold().domain(rhoBreaks).range(legendColors.slice().reverse());
const rhoFmt = d3.formatLocale({decimal:".",thousands:",",grouping:[3],currency:["",""],minus:"-"}).format("+.2f");
const planar = d3.geoTransform({point(x,y){this.stream.point(mapX(x),mapY(y));}});
const geoPath = d3.geoPath(planar);
const toRing = flat => { const r=[]; for(let i=0;i<flat.length;i+=2) r.push([flat[i],flat[i+1]]); r.push(r[0]); return [r]; };

const svg = d3.select("#chart");
svg.append("rect").attr("width",3840).attr("height",2436).attr("fill","#fff");

// ---------- map ----------
const features = provinces.flatMap((name,i)=>outlines[i].map(ring=>({type:"Feature",properties:{name,i},geometry:{type:"Polygon",coordinates:toRing(ring)}})));
const fillOf = d => rhoRel[d.properties.i]===null ? noDataColor : rhoColor(rhoRel[d.properties.i]);
const gMap = svg.append("g");
gMap.selectAll("path.prov").data(features).join("path").attr("class","prov")
  .attr("d",geoPath).attr("fill",fillOf).attr("stroke","#fff").attr("stroke-width",2.2).attr("stroke-linejoin","round");
gMap.append("path").attr("d",geoPath({type:"Polygon",coordinates:toRing(oTrevino)})).attr("fill",rhoColor(3.93)).attr("stroke","#fff").attr("stroke-width",1.6);
gMap.selectAll("path.speck").data(citySpecks).join("path").attr("class","speck")
  .attr("d",s=>geoPath({type:"Polygon",coordinates:toRing(s)})).attr("fill",noDataColor);

// ---------- province labels ----------
function rhoLine(g,x,y,value,size,color){
  const t=g.append("text").attr("x",x).attr("y",y).attr("text-anchor","middle").attr("dominant-baseline","central").attr("font-size",size).attr("fill",color);
  t.append("tspan").attr("font-style","italic").text("ρ");
  t.append("tspan").attr("font-style","italic").attr("font-size",size*0.7).attr("dy",size*0.2).text("rel");
  t.append("tspan").attr("dy",-size*0.2).text(": "+rhoFmt(value));
}
const gLabels = svg.append("g");
provinces.forEach((name,i)=>{
  const x=mapX(labelAnchors[i][0]), y=mapY(labelAnchors[i][1]);
  if(empresas[i]===null){
    gLabels.append("text").attr("x",x).attr("y",y).attr("text-anchor","middle").attr("dominant-baseline","central").attr("font-size",20.5).attr("fill","#555").text(name);
    gLabels.append("text").attr("x",x).attr("y",y+23).attr("text-anchor","middle").attr("dominant-baseline","central").attr("font-size",16.2).attr("fill","#888").text("Sin empresas");
  } else {
    gLabels.append("text").attr("x",x).attr("y",y).attr("text-anchor","middle").attr("dominant-baseline","central").attr("font-size",20).attr("font-weight","bold").attr("fill","#111").text(name);
    gLabels.append("text").attr("x",x).attr("y",y+28).attr("text-anchor","middle").attr("dominant-baseline","central").attr("font-size",17).attr("fill","#333").text("Empresas: "+empresas[i]);
    rhoLine(gLabels,x,y+47,rhoRel[i],17,"#333");
  }
});
cities.forEach((name,i)=>{
  const x=mapX(cityAnchors[i][0]), y=mapY(cityAnchors[i][1]);
  gLabels.append("circle").attr("cx",x).attr("cy",y).attr("r",13).attr("fill",noDataColor);
  gLabels.append("text").attr("x",x).attr("y",y+51).attr("text-anchor","middle").attr("dominant-baseline","central").attr("font-size",17).attr("fill","#555").text(name);
  gLabels.append("text").attr("x",x).attr("y",y+74).attr("text-anchor","middle").attr("dominant-baseline","central").attr("font-size",14.3).attr("fill","#888").text("Sin empresas");
});

// ---------- title ----------
const cText=(g,x,y,size,txt,opt={})=>g.append("text").attr("x",x).attr("y",y).attr("dominant-baseline","central").attr("font-size",size).attr("font-weight",opt.bold?"bold":"normal").attr("font-style",opt.italic?"italic":"normal").attr("text-anchor",opt.anchor||"start").attr("fill",opt.fill||"#000").text(txt);
cText(svg,1860,73,45.7,titleText,{bold:true,anchor:"middle"});
function subLine(y,a,b){
  const t=svg.append("text").attr("x",1860).attr("y",y).attr("text-anchor","middle").attr("dominant-baseline","central").attr("font-size",22.8).attr("font-style","italic").attr("fill","#000");
  if(a) t.append("tspan").text(a);
  t.append("tspan").text("ρ");
  t.append("tspan").attr("font-size",16).attr("dy",4.5).text("rel");
  t.append("tspan").attr("dy",-4.5).text(b);
}
subLine(168,"",subtitle1);
subLine(197,subtitle2a,subtitle2b);

// ---------- left panel ----------
const px=160;
cText(svg,px,396,33.3,clusterName,{bold:true});
const clusterY=[469,502,533,565];
clusterLines.forEach((l,i)=>cText(svg,px,clusterY[i],27.7,l));
cText(svg,px,692,30.2,totalText,{bold:true});
svg.append("line").attr("x1",px).attr("x2",764).attr("y1",733).attr("y2",733).attr("stroke","#888").attr("stroke-width",2);
cText(svg,px,797,25.1,topHeader);
const topY=[855,898,941];
topCompanies.forEach((l,i)=>cText(svg,px,topY[i],22.7,l,{italic:true}));
cText(svg,px,1037,25,keywordsHeader,{bold:true});
const kwY=[1079,1105,1130,1155,1182];
keywordLines.forEach((l,i)=>cText(svg,px,kwY[i],22.8,l));
cText(svg,px,1305,25,descHeader,{bold:true});
const descY=[1346,1373,1400,1427,1454,1481,1506,1532,1558,1584,1610,1638,1664,1688,1715,1741,1767,1793];
descLines.forEach((l,i)=>cText(svg,px,descY[i],22.8,l,{fill:"#555"}));

// ---------- legend ----------
cText(svg,3224,1982,27.7,"Referencias de colores");
const legY=d3.scaleLinear().domain([0,6]).range([2052,2281]);
const gLeg=svg.append("g");
gLeg.selectAll("rect").data(legendLabels).join("rect").attr("x",3225).attr("width",49).attr("y",(d,i)=>legY(i)-7.5).attr("height",15).attr("fill",(d,i)=>legendColors[i]);
legendLabels.forEach((l,i)=>cText(gLeg,3296,legY(i),25.1,l));
</script>
</body></html>
